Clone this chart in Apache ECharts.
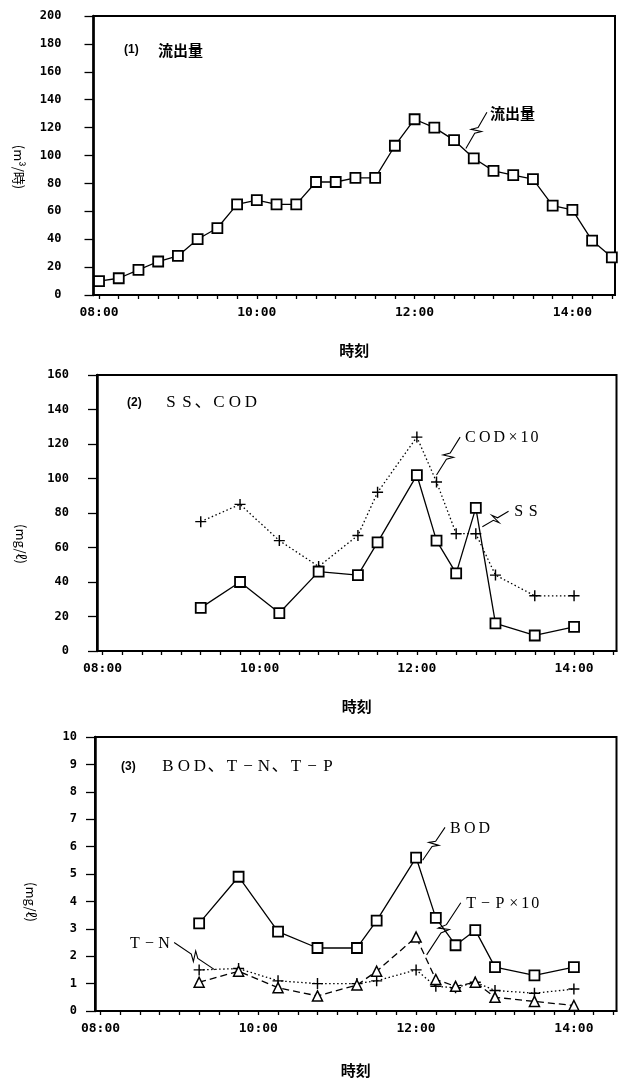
<!DOCTYPE html>
<html>
<head>
<meta charset="utf-8">
<script src="https://cdn.jsdelivr.net/npm/echarts@6/dist/echarts.min.js"></script>
<style>
  html, body { margin: 0; padding: 0; background: #fff; }
  #chart { width: 620px; height: 1079px; }
</style>
</head>
<body>
<div id="chart"></div>
<script>
// ---- (1) outflow, every 15 minutes ----
const flowTimes = ['08:00','08:15','08:30','08:45','09:00','09:15','09:30','09:45','10:00','10:15','10:30','10:45','11:00','11:15',
                   '11:30','11:45','12:00','12:15','12:30','12:45','13:00','13:15','13:30','13:45','14:00','14:15','14:30'];
const flowValues = [10, 12, 18, 24, 28, 40, 48, 65, 68, 65, 65, 81, 81, 84, 84, 107, 126, 120, 111, 98, 89, 86, 83, 64, 61, 39, 27];

// ---- water-quality sampling times ----
const sampleTimes = ['09:15','09:45','10:15','10:45','11:15','11:30','12:00','12:15','12:30','12:45','13:00','13:30','14:00'];
// (2) SS and COD (COD plotted ×10), mg/ℓ
const ssValues  = [25, 40, 22, 46, 44, 63, 102, 64, 45, 83, 16, 9, 14];
const codValues = [75, 85, 64, 49, 67, 92, 124, 98, 68, 68, 44, 32, 32];
// (3) BOD, T-N, T-P (T-P plotted ×10), mg/ℓ
const bodValues = [3.2, 4.9, 2.9, 2.3, 2.3, 3.3, 5.6, 3.4, 2.4, 2.95, 1.6, 1.3, 1.6];
const tnValues  = [1.5, 1.55, 1.1, 1.0, 1.0, 1.1, 1.5, 0.9, 0.85, 1.05, 0.75, 0.65, 0.8];
const tpValues  = [1.05, 1.45, 0.85, 0.55, 0.95, 1.45, 2.7, 1.15, 0.9, 1.05, 0.5, 0.35, 0.2];

// axis labels
const hourLabels = ['08:00', '10:00', '12:00', '14:00'];
const panelTitles = ['流出量', 'SS、COD', 'BOD、T−N、T−P'];
const panelNumbers = ['(1)', '(2)', '(3)'];
const yNames = ['(m³/時)', '(mg/ℓ)', '(mg/ℓ)'];
const xName = '時刻';

// callouts: [text, lineStartTime, lineStartValue, lineEndTime, lineEndValue, side]
const flowCallouts = [['流出量', '12:39', 105, '12:55', 131, 'right']];
const ssCodCallouts = [['COD×10', '12:15', 102, '12:33', 124, 'right'],
                       ['SS', '12:50', 72, '13:10', 81, 'right']];
const nutrientCallouts = [['BOD', '12:05', 5.5, '12:22', 6.7, 'right'],
                          ['T−P×10', '12:08', 2.05, '12:34', 3.95, 'right'],
                          ['T−N', '09:27', 1.5, '08:56', 2.5, 'left']];

const toHour = s => { const [h, m] = s.split(':').map(Number); return h + m / 60; };
const pairs = (times, vals) => times.map((t, i) => [toHour(t), vals[i]]);

const CJK = '"Noto Sans CJK JP", sans-serif';
const SERIF = '"Liberation Serif", "Noto Sans CJK JP", serif';
const MONO = '"DejaVu Sans Mono", monospace';

const X_MIN = 7.93, X_MAX = 14.54;
const hourValues = hourLabels.map(toHour);
const quarterTicks = [];
for (let q = 8; q <= 14.5 + 1e-9; q += 0.25) quarterTicks.push(q);

const grids = [
  { left: 93.5, right: 5, top: 16, height: 279 },
  { left: 97, right: 3.5, top: 375, height: 276 },
  { left: 95, right: 3.5, top: 737, height: 280 }
];
const yRanges = [[0, 200, 20], [0, 160, 20], [0, 10, 1]];
const yLabelMargins = [32, 28, 18];
const xNameGaps = [48, 48, 52];

// advance width of one glyph of the spaced serif lettering
function advance(ch, big) {
  if (big) return 16;
  if (ch === '、') return 16;
  if (ch === '×') return 13;
  if (/[0-9]/.test(ch)) return 10;
  return 14.5;
}
function glyphRow(str, x, y, big, alignRight) {
  const chars = Array.from(str);
  const total = chars.reduce((s, c) => s + advance(c, big), 0);
  let cx = alignRight ? x - total : x;
  const out = [];
  chars.forEach(c => {
    const w = advance(c, big);
    out.push({
      type: 'text',
      x: cx + w / 2, y: y,
      style: { text: c, fill: '#000', font: (big ? '17px ' : '16px ') + SERIF, align: 'center', verticalAlign: 'middle' }
    });
    cx += w;
  });
  return out;
}

function zigzag(a, b) {
  const dx = b[0] - a[0], dy = b[1] - a[1];
  const L = Math.hypot(dx, dy);
  const ux = dx / L, uy = dy / L, nx = -uy, ny = ux;
  const at = (t, off) => [a[0] + dx * t + nx * off, a[1] + dy * t + ny * off];
  return [a, at(0.42, 0), at(0.54, 5), at(0.46, -5), at(0.58, 0), b];
}

function calloutSeries(idx, items) {
  return {
    type: 'custom', xAxisIndex: idx, yAxisIndex: idx, silent: true, z: 20, clip: false,
    dimensions: ['x1', 'y1', 'x2', 'y2'],
    data: items.map(c => [toHour(c[1]), c[2], toHour(c[3]), c[4]]),
    renderItem: (params, api) => {
      const c = items[params.dataIndex];
      const a = api.coord([api.value(0), api.value(1)]);
      const b = api.coord([api.value(2), api.value(3)]);
      const children = [{
        type: 'polyline', shape: { points: zigzag(a, b) },
        style: { stroke: '#000', lineWidth: 1.1, fill: null }
      }];
      const right = c[5] === 'right';
      const tx = right ? b[0] + 3 : b[0] - 3;
      if (/[\u3400-\u9fff]/.test(c[0]) && !/[A-Z]/.test(c[0])) {
        children.push({
          type: 'text', x: tx, y: b[1] + 1,
          style: { text: c[0], fill: '#000', font: 'bold 15px ' + CJK, align: right ? 'left' : 'right', verticalAlign: 'middle' }
        });
      } else {
        glyphRow(c[0], tx, b[1] + 1, false, !right).forEach(g => children.push(g));
      }
      return { type: 'group', children };
    }
  };
}

const markSquare = { symbol: 'rect', symbolSize: 10, itemStyle: { color: '#fff', borderColor: '#000', borderWidth: 1.8 } };
const markPlus = { symbol: 'path://M4.35,0H5.65V4.35H10V5.65H5.65V10H4.35V5.65H0V4.35H4.35Z', symbolSize: 11, itemStyle: { color: '#000', borderWidth: 0 } };
const markTri = { symbol: 'triangle', symbolSize: 10, itemStyle: { color: '#fff', borderColor: '#000', borderWidth: 1.5 } };

function lineSeries(idx, name, data, mark, dash, z) {
  return Object.assign({
    type: 'line', name, xAxisIndex: idx, yAxisIndex: idx, data, z,
    showSymbol: true, showAllSymbol: true, clip: false,
    lineStyle: { color: '#000', width: 1.3, type: dash },
    emphasis: { disabled: true }
  }, mark);
}

const xAxes = grids.map((g, i) => ({
  type: 'value', gridIndex: i, min: X_MIN, max: X_MAX,
  axisLine: { onZero: false, lineStyle: { color: '#000', width: 2 } },
  axisTick: { show: true, customValues: quarterTicks, length: 4, lineStyle: { color: '#000', width: 1.3 } },
  axisLabel: {
    customValues: hourValues, margin: 11, color: '#000',
    fontFamily: MONO, fontWeight: 'bold', fontSize: 13,
    formatter: v => { const k = hourValues.findIndex(h => Math.abs(h - v) < 1e-6); return k >= 0 ? hourLabels[k] : ''; }
  },
  splitLine: { show: false },
  name: xName, nameLocation: 'middle', nameGap: xNameGaps[i],
  nameTextStyle: { fontFamily: CJK, fontWeight: 'bold', fontSize: 15, color: '#000' }
}));

const yAxes = grids.map((g, i) => ({
  type: 'value', gridIndex: i, min: yRanges[i][0], max: yRanges[i][1], interval: yRanges[i][2],
  axisLine: { show: true, lineStyle: { color: '#000', width: 2.5 } },
  axisTick: { show: true, length: 9, lineStyle: { color: '#000', width: 1.3 } },
  axisLabel: { margin: yLabelMargins[i], color: '#000', fontFamily: MONO, fontWeight: 'bold', fontSize: 12 },
  splitLine: { show: false }
}));

// panel titles and rotated unit names
const graphics = [];
const titlePos = [[124, 158, 50], [127, 163, 403], [121, 160, 767]];
titlePos.forEach((p, i) => {
  graphics.push({ type: 'text', x: p[0], y: p[2], style: { text: panelNumbers[i], fill: '#000', font: 'bold 12px "Liberation Sans", sans-serif', verticalAlign: 'middle' } });
  if (i === 0) {
    graphics.push({ type: 'text', x: p[1], y: p[2], style: { text: panelTitles[0], fill: '#000', font: 'bold 15px ' + CJK, verticalAlign: 'middle' } });
  } else {
    glyphRow(panelTitles[i], p[1], p[2], true, false).forEach(g => graphics.push(g));
  }
});
const yNamePos = [[19, 167], [21, 544], [31, 902]];
yNamePos.forEach((p, i) => {
  graphics.push({ type: 'text', x: p[0], y: p[1], rotation: -Math.PI / 2,
    style: { text: yNames[i], fill: '#000', font: '13px ' + CJK, align: 'center', verticalAlign: 'middle' } });
});

const option = {
  animation: false,
  backgroundColor: '#fff',
  grid: grids.map(g => Object.assign({ show: true, borderColor: '#000', borderWidth: 2, backgroundColor: 'transparent' }, g)),
  xAxis: xAxes,
  yAxis: yAxes,
  graphic: graphics,
  series: [
    lineSeries(0, '流出量', pairs(flowTimes, flowValues), markSquare, 'solid', 5),
    calloutSeries(0, flowCallouts),
    lineSeries(1, 'COD×10', pairs(sampleTimes, codValues), markPlus, [1.5, 2.5], 4),
    lineSeries(1, 'SS', pairs(sampleTimes, ssValues), markSquare, 'solid', 5),
    calloutSeries(1, ssCodCallouts),
    lineSeries(2, 'T−N', pairs(sampleTimes, tnValues), markPlus, [1.5, 2.5], 4),
    lineSeries(2, 'T−P×10', pairs(sampleTimes, tpValues), markTri, [7, 4], 4),
    lineSeries(2, 'BOD', pairs(sampleTimes, bodValues), markSquare, 'solid', 5),
    calloutSeries(2, nutrientCallouts)
  ]
};

echarts.init(document.getElementById('chart'), null, { renderer: 'canvas' }).setOption(option);
</script>
</body>
</html>
